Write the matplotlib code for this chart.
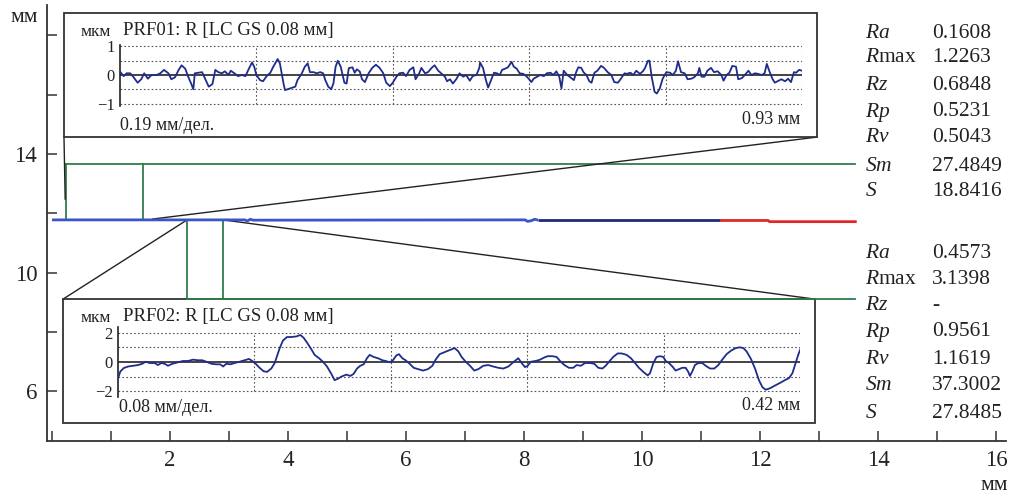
import numpy as np
import matplotlib
matplotlib.use('Agg')
import matplotlib.pyplot as plt
from matplotlib.patches import Rectangle

plt.rcParams['font.family'] = ['Liberation Serif', 'DejaVu Serif']
plt.rcParams['mathtext.fontset'] = 'custom'
plt.rcParams['mathtext.rm'] = 'Liberation Serif'
plt.rcParams['mathtext.it'] = 'Liberation Serif:italic'

# ---------------- data ----------------
x_tick_values = list(range(0, 17))
x_tick_labels = ['' if v % 2 or v == 0 else str(v) for v in x_tick_values]
y_tick_values = [6, 8, 10, 12, 14, 16, 18]
y_tick_labels = ['6', '', '10', '', '14', '', '']

# measured surface (main, mm)
surf_blue_x = [0.0, 3.27, 3.31, 3.36, 3.41, 8.02, 8.06, 8.12, 8.18, 8.24]
surf_blue_y = [11.78, 11.78, 11.74, 11.80, 11.77, 11.78, 11.73, 11.75, 11.80, 11.77]
surf_navy_x = [8.24, 11.32]
surf_navy_y = [11.76, 11.76]
surf_red_x = [11.32, 12.14, 12.16, 13.64]
surf_red_y = [11.76, 11.76, 11.72, 11.72]

# selected segments (mm)
sel1_x = [0.237, 1.54]
sel2_x = [2.29, 2.90]
sel1_level = 13.65
sel2_level = 9.11
sel_right_end = 13.61

# profile PRF01 (mm, um)
prf1_x = [0.000, 0.005, 0.009, 0.014, 0.018, 0.024, 0.029, 0.033, 0.038, 0.043,
          0.050, 0.055, 0.060, 0.066, 0.070, 0.075, 0.080, 0.084, 0.089, 0.093,
          0.097, 0.100, 0.102, 0.107, 0.112, 0.117, 0.121, 0.126, 0.130, 0.134,
          0.139, 0.143, 0.148, 0.151, 0.156, 0.161, 0.166, 0.171, 0.175, 0.180,
          0.183, 0.186, 0.191, 0.195, 0.200, 0.205, 0.209, 0.215, 0.218, 0.223,
          0.225, 0.232, 0.239, 0.242, 0.248, 0.252, 0.256, 0.259, 0.264, 0.268,
          0.273, 0.277, 0.280, 0.284, 0.288, 0.291, 0.294, 0.297, 0.301, 0.306,
          0.309, 0.312, 0.317, 0.320, 0.323, 0.327, 0.330, 0.334, 0.339, 0.344,
          0.349, 0.354, 0.359, 0.363, 0.368, 0.372, 0.377, 0.381, 0.386, 0.390,
          0.395, 0.400, 0.403, 0.408, 0.411, 0.416, 0.420, 0.425, 0.429, 0.434,
          0.438, 0.443, 0.446, 0.450, 0.454, 0.459, 0.463, 0.468, 0.472, 0.477,
          0.481, 0.486, 0.490, 0.491, 0.495, 0.499, 0.502, 0.506, 0.510, 0.514,
          0.518, 0.521, 0.525, 0.529, 0.534, 0.537, 0.541, 0.545, 0.550, 0.554,
          0.558, 0.561, 0.564, 0.569, 0.573, 0.578, 0.582, 0.587, 0.591, 0.595,
          0.599, 0.602, 0.605, 0.610, 0.614, 0.619, 0.622, 0.625, 0.629, 0.632,
          0.636, 0.640, 0.643, 0.647, 0.651, 0.656, 0.660, 0.665, 0.670, 0.674,
          0.679, 0.683, 0.688, 0.691, 0.696, 0.700, 0.704, 0.709, 0.713, 0.716,
          0.720, 0.722, 0.725, 0.729, 0.732, 0.736, 0.740, 0.745, 0.750, 0.754,
          0.758, 0.761, 0.765, 0.770, 0.774, 0.779, 0.783, 0.788, 0.790, 0.793,
          0.797, 0.801, 0.806, 0.810, 0.815, 0.820, 0.823, 0.827, 0.831, 0.835,
          0.840, 0.843, 0.848, 0.852, 0.857, 0.861, 0.866, 0.870, 0.875, 0.879,
          0.882, 0.886, 0.890, 0.893, 0.898, 0.902, 0.907, 0.911, 0.915, 0.919,
          0.922, 0.926, 0.930]
prf1_y = [0.12, -0.04, 0.06, 0.06, -0.06, -0.27, -0.15, 0.06, -0.13, 0.00,
          0.00, 0.06, 0.18, 0.06, -0.15, -0.08, 0.18, 0.34, 0.22, -0.06,
          -0.30, -0.50, 0.06, 0.08, 0.10, -0.18, -0.41, -0.32, 0.18, 0.10,
          0.06, 0.13, 0.00, 0.15, 0.06, -0.04, 0.00, -0.04, 0.18, 0.44,
          0.29, 0.00, -0.18, -0.22, -0.04, 0.08, 0.29, 0.56, 0.41, -0.30,
          -0.53, -0.47, -0.41, -0.18, 0.06, 0.29, 0.41, 0.10, 0.10, 0.06,
          0.10, 0.06, -0.18, -0.41, -0.50, -0.30, 0.29, 0.50, 0.29, -0.27,
          -0.30, 0.24, 0.27, 0.08, 0.20, 0.12, -0.15, -0.25, 0.06, 0.25,
          0.36, 0.25, 0.06, -0.27, -0.39, -0.27, -0.06, 0.06, 0.08, -0.04,
          0.18, 0.27, -0.15, 0.06, 0.25, 0.06, 0.10, 0.25, 0.34, 0.15,
          0.06, -0.06, -0.22, -0.15, -0.30, -0.13, 0.06, -0.06, 0.00, -0.20,
          -0.04, 0.00, 0.25, 0.44, 0.25, -0.18, -0.44, -0.18, 0.08, 0.06,
          0.00, 0.18, 0.22, 0.27, 0.46, 0.29, 0.22, 0.06, 0.04, -0.04,
          -0.15, -0.25, -0.13, -0.06, 0.00, -0.04, 0.06, 0.08, 0.00, 0.13,
          -0.06, -0.47, 0.15, 0.00, -0.08, -0.18, 0.10, 0.27, 0.25, 0.10,
          0.00, -0.22, -0.27, 0.08, 0.15, 0.32, 0.25, 0.10, 0.00, -0.25,
          -0.27, -0.13, 0.06, 0.04, 0.08, 0.00, 0.15, 0.04, 0.13, 0.25,
          0.50, 0.50, -0.06, -0.59, -0.65, -0.48, -0.13, 0.10, 0.08, 0.00,
          0.15, 0.48, 0.10, 0.06, -0.15, -0.13, -0.08, 0.06, 0.25, -0.06,
          -0.06, 0.15, 0.25, 0.10, 0.13, 0.00, -0.20, 0.00, 0.08, 0.32,
          0.29, -0.15, -0.11, 0.00, 0.15, 0.00, 0.06, 0.04, 0.00, 0.06,
          0.39, 0.10, -0.15, -0.27, -0.20, -0.15, -0.22, -0.13, -0.25, 0.10,
          0.08, 0.18, 0.15]

# profile PRF02 (mm, um)
prf2_x = [0.0000, 0.0014, 0.0035, 0.0062, 0.0092, 0.0123, 0.0150, 0.0170, 0.0195, 0.0226,
          0.0246, 0.0267, 0.0287, 0.0308, 0.0335, 0.0369, 0.0400, 0.0431, 0.0462, 0.0493,
          0.0519, 0.0544, 0.0575, 0.0606, 0.0630, 0.0647, 0.0667, 0.0692, 0.0718, 0.0749,
          0.0780, 0.0807, 0.0827, 0.0848, 0.0872, 0.0897, 0.0918, 0.0944, 0.0965, 0.0979,
          0.0996, 0.1016, 0.1041, 0.1067, 0.1098, 0.1123, 0.1143, 0.1164, 0.1191, 0.1211,
          0.1238, 0.1262, 0.1287, 0.1314, 0.1334, 0.1355, 0.1375, 0.1406, 0.1431, 0.1451,
          0.1472, 0.1492, 0.1513, 0.1533, 0.1550, 0.1574, 0.1601, 0.1628, 0.1648, 0.1673,
          0.1693, 0.1714, 0.1730, 0.1751, 0.1771, 0.1796, 0.1821, 0.1847, 0.1878, 0.1909,
          0.1936, 0.1956, 0.1981, 0.2012, 0.2042, 0.2073, 0.2096, 0.2116, 0.2141, 0.2168,
          0.2194, 0.2219, 0.2250, 0.2280, 0.2311, 0.2342, 0.2373, 0.2404, 0.2434, 0.2465,
          0.2486, 0.2506, 0.2523, 0.2543, 0.2572, 0.2599, 0.2625, 0.2646, 0.2675, 0.2701,
          0.2722, 0.2749, 0.2777, 0.2804, 0.2824, 0.2851, 0.2876, 0.2907, 0.2933, 0.2958,
          0.2983, 0.3003, 0.3024, 0.3050, 0.3077, 0.3102, 0.3132, 0.3159, 0.3184, 0.3208,
          0.3235, 0.3262, 0.3276, 0.3297, 0.3317, 0.3338, 0.3358, 0.3373, 0.3393, 0.3414,
          0.3434, 0.3455, 0.3475, 0.3496, 0.3512, 0.3522, 0.3537, 0.3553, 0.3574, 0.3598,
          0.3619, 0.3646, 0.3672, 0.3697, 0.3721, 0.3748, 0.3775, 0.3804, 0.3830, 0.3851,
          0.3871, 0.3898, 0.3923, 0.3947, 0.3968, 0.3988, 0.4015, 0.4046, 0.4077, 0.4107,
          0.4132, 0.4153, 0.4173, 0.4189, 0.4202]
prf2_y = [-1.13, -0.66, -0.42, -0.31, -0.26, -0.21, -0.12, 0.02, -0.07, -0.07,
          -0.21, -0.07, -0.12, -0.26, -0.12, -0.02, 0.07, 0.07, 0.16, 0.12,
          0.12, 0.02, -0.12, -0.16, -0.16, -0.31, -0.12, -0.16, -0.07, 0.02,
          0.12, 0.21, 0.07, -0.12, -0.40, -0.64, -0.68, -0.45, -0.07, 0.40,
          0.96, 1.48, 1.72, 1.72, 1.76, 1.86, 1.67, 1.34, 0.87, 0.49,
          0.26, 0.02, -0.31, -0.82, -1.25, -1.15, -1.01, -0.87, -0.96, -0.82,
          -0.45, -0.26, -0.16, 0.26, 0.49, 0.35, 0.26, 0.12, 0.07, -0.02,
          0.12, 0.45, 0.54, 0.26, 0.12, -0.12, -0.40, -0.49, -0.59, -0.49,
          -0.26, 0.16, 0.54, 0.68, 0.82, 0.96, 0.73, 0.35, 0.02, -0.26,
          -0.59, -0.49, -0.26, -0.21, -0.31, -0.40, -0.45, -0.31, -0.02, 0.26,
          -0.07, -0.35, -0.26, 0.02, 0.07, 0.16, 0.31, 0.40, 0.40, 0.35,
          0.07, -0.21, -0.40, -0.40, -0.21, -0.26, -0.07, -0.07, -0.12, -0.40,
          -0.45, -0.26, 0.02, 0.35, 0.59, 0.59, 0.49, 0.26, -0.07, -0.40,
          -0.68, -0.92, -0.78, -0.07, 0.35, 0.40, 0.35, 0.07, -0.07, -0.31,
          -0.59, -0.49, -0.40, -0.40, -0.68, -0.96, -0.64, -0.21, -0.07, -0.07,
          -0.26, -0.45, -0.45, -0.21, 0.16, 0.54, 0.78, 0.96, 1.01, 0.96,
          0.73, 0.21, -0.45, -1.25, -1.72, -1.91, -1.81, -1.62, -1.44, -1.25,
          -1.11, -0.78, -0.07, 0.49, 0.87]

prf1_length = 0.93
prf2_length = 0.42
prf1_yticks = [-1, 0, 1]
prf2_yticks = [-2, 0, 2]

stat_names = [r'$Ra$', r'$R$max', r'$Rz$', r'$Rp$', r'$Rv$', r'$Sm$', r'$S$']
stats1_values = ['0.1608', '1.2263', '0.6848', '0.5231', '0.5043', '27.4849', '18.8416']
stats2_values = ['0.4573', '3.1398', '-', '0.9561', '1.1619', '37.3002', '27.8485']

# ---------------- figure ----------------
W, H = 1014, 497
fig = plt.figure(figsize=(W / 100, H / 100), dpi=100)
TXT = '#222222'

def fx(px):
    return px / W

def fy(py):
    return 1 - py / H

ax = fig.add_axes([fx(47), fy(440.7), fx(1006) - fx(47), fy(5) - fy(440.7)])
ax.set_xlim(-0.085, 16.17)
ax.set_ylim(4.34, 19.02)
for s in ['top', 'right']:
    ax.spines[s].set_visible(False)
for s in ['left', 'bottom']:
    ax.spines[s].set_color('#333333')
    ax.spines[s].set_linewidth(1.3)
ax.set_xticks(x_tick_values)
ax.set_xticklabels(x_tick_labels)
ax.set_yticks(y_tick_values)
ax.set_yticklabels(y_tick_labels)
ax.tick_params(axis='both', direction='in', length=7, width=1.1, color='#333333',
               labelsize=16.5, labelcolor=TXT)
ax.tick_params(axis='x', pad=7)
ax.tick_params(axis='y', pad=7)

# main surface line
ax.plot(surf_blue_x, surf_blue_y, color='#3a55c8', lw=2, zorder=5, solid_capstyle='butt')
ax.plot(surf_navy_x, surf_navy_y, color='#1e2a78', lw=2, zorder=5, solid_capstyle='butt')
ax.plot(surf_red_x, surf_red_y, color='#e02828', lw=2, zorder=5, solid_capstyle='butt')

green = '#2f7d4c'
base = surf_blue_y[0]
# selection 1
ax.plot([sel1_x[0], sel1_x[0]], [base, sel1_level], color=green, lw=1.3, zorder=4)
ax.plot([sel1_x[1], sel1_x[1]], [base, sel1_level], color=green, lw=1.3, zorder=4)
ax.plot([sel1_x[0], sel_right_end], [sel1_level, sel1_level], color=green, lw=1.3, zorder=4)
# selection 2
ax.plot([sel2_x[0], sel2_x[0]], [base, sel2_level], color=green, lw=1.3, zorder=4)
ax.plot([sel2_x[1], sel2_x[1]], [base, sel2_level], color=green, lw=1.3, zorder=4)

# inset boxes (data coords of main axes)
box1 = (0.203, 14.57, 12.97, 18.75)
box2 = (0.186, 4.93, 12.93, 9.11)
for (x0, y0, x1, y1) in [box1, box2]:
    ax.add_patch(Rectangle((x0, y0), x1 - x0, y1 - y0, facecolor='white',
                           edgecolor='#333333', lw=1.3, zorder=6))
ax.plot([sel2_x[0], sel_right_end], [sel2_level, sel2_level], color=green, lw=1.3, zorder=7)

# connectors
ax.plot([box1[0], box1[0] + 0.02], [box1[1], 12.48], color='#222222', lw=1.0, zorder=4)
ax.plot([1.71, box1[2]], [11.81, box1[1]], color='#222222', lw=1.0, zorder=4)
ax.plot([box2[0], sel2_x[0]], [box2[3], base], color='#222222', lw=1.0, zorder=4)
ax.plot([sel2_x[1], box2[2]], [base, box2[3]], color='#222222', lw=1.0, zorder=4)

# axis unit labels
fig.text(fx(24), fy(18), 'мм', fontsize=15.5, ha='center', va='center', color=TXT)
fig.text(fx(994), fy(485), 'мм', fontsize=15.5, ha='center', va='center', color=TXT)


def profile_axes(rect, xs, ys, length, ylim, yticks):
    a = fig.add_axes(rect)
    a.set_facecolor('none')
    a.set_xlim(0, length)
    a.set_ylim(*ylim)
    for s in ['top', 'right', 'bottom']:
        a.spines[s].set_visible(False)
    a.spines['left'].set_color('#222222')
    a.spines['left'].set_linewidth(1.2)
    a.set_xticks([])
    a.set_yticks(yticks)
    a.set_yticklabels([str(t).replace('-', '\u2212') for t in yticks])
    a.tick_params(axis='y', length=0, pad=4, labelsize=12, labelcolor=TXT)
    lo, hi = yticks[0], yticks[-1]
    for lev in [lo, lo / 2, hi / 2, hi]:
        a.axhline(lev, color='#555555', lw=0.8, ls=(0, (1.5, 2)), zorder=1)
    for k in range(1, 6):
        a.axvline(length * k / 5, ymin=(lo - ylim[0]) / (ylim[1] - ylim[0]),
                  ymax=(hi - ylim[0]) / (ylim[1] - ylim[0]),
                  color='#555555', lw=0.8, ls=(0, (1.5, 2)), zorder=1)
    a.axhline(0, color='#111111', lw=1.1, zorder=2)
    a.plot(xs, ys, color='#1f2d8a', lw=1.3, zorder=3)
    return a

profile_axes([fx(120), fy(105.5), fx(802) - fx(120), fy(44.5) - fy(105.5)],
             prf1_x, prf1_y, prf1_length, (-1.07, 1.07), prf1_yticks)
profile_axes([fx(118), fy(397), fx(800) - fx(118), fy(327) - fy(397)],
             prf2_x, prf2_y, prf2_length, (-2.41, 2.41), prf2_yticks)

# inset labels
fig.text(fx(111), fy(32), 'мкм', fontsize=12.5, ha='right', va='center', color=TXT)
fig.text(fx(123), fy(30), 'PRF01: R [LC GS 0.08 мм]', fontsize=13.5, ha='left', va='center', color=TXT)
fig.text(fx(120), fy(125), '0.19 мм/дел.', fontsize=13, ha='left', va='center', color=TXT)
fig.text(fx(800), fy(119), '0.93 мм', fontsize=13, ha='right', va='center', color=TXT)

fig.text(fx(111), fy(318), 'мкм', fontsize=12.5, ha='right', va='center', color=TXT)
fig.text(fx(123), fy(316), 'PRF02: R [LC GS 0.08 мм]', fontsize=13.5, ha='left', va='center', color=TXT)
fig.text(fx(119), fy(408), '0.08 мм/дел.', fontsize=13, ha='left', va='center', color=TXT)
fig.text(fx(800), fy(405), '0.42 мм', fontsize=13, ha='right', va='center', color=TXT)

# statistics (baselines)
rows1 = [31, 56, 83, 110, 136, 164, 190]
rows2 = [251, 277, 304, 330, 357, 384, 412]
for vals, rows in [(stats1_values, rows1), (stats2_values, rows2)]:
    for n, v, r in zip(stat_names, vals, rows):
        fig.text(fx(865), fy(r + 6.5), n, fontsize=15.5, ha='left', va='baseline', color=TXT)
        fig.text(fx(932), fy(r + 6.5), v, fontsize=15.5, ha='left', va='baseline', color=TXT)

fig.savefig('out.png', dpi=100)
